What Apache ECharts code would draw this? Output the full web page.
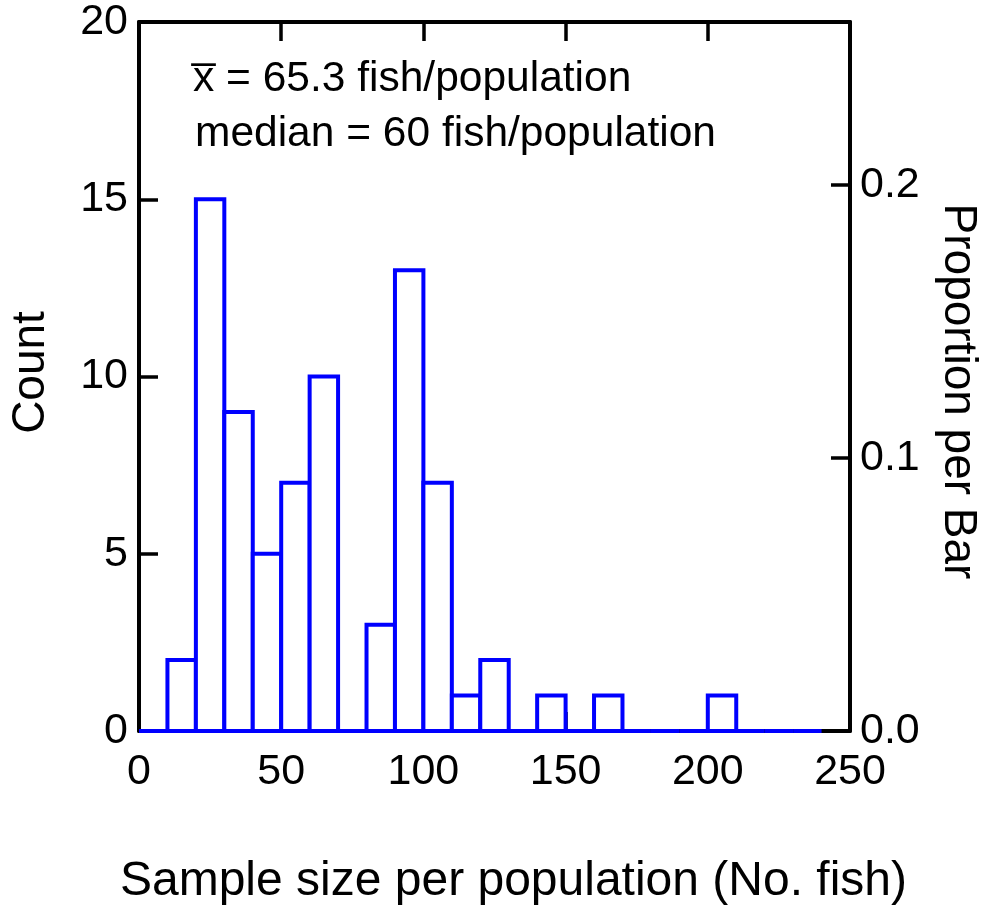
<!DOCTYPE html>
<html>
<head>
<meta charset="utf-8">
<script src="https://cdn.jsdelivr.net/npm/echarts@6/dist/echarts.min.js"></script>
<style>
  html, body { margin: 0; padding: 0; background: #fff; }
  #chart { width: 992px; height: 907px; }
</style>
</head>
<body>
<div id="chart"></div>
<script>
// histogram bins (left edge, width 10)
const binStarts = [0, 10, 20, 30, 40, 50, 60, 70, 80, 90, 100, 110, 120, 130, 140, 150, 160, 170, 180, 190, 200, 210, 220, 230]
const binWidth = 10
const counts = [0, 2, 15, 9, 5, 7, 10, 0, 3, 13, 7, 1, 2, 0, 1, 0, 1, 0, 0, 0, 1, 0, 0, 0]
const xTicks = [0, 50, 100, 150, 200, 250]
const countTicks = [0, 5, 10, 15, 20]
const propTicks = [0, 0.1, 0.2]
const notes = ['x\u0305 = 65.3 fish/population', 'median = 60 fish/population']

const FONT = "'Liberation Sans', Arial, sans-serif"
const total = counts.reduce((a, b) => a + b, 0)
const countMax = 20

const chart = echarts.init(document.getElementById('chart'))

const axisLine = { show: true, onZero: false, lineStyle: { color: '#000', width: 4 } }
const tickIn = { show: true, inside: true, length: 19, lineStyle: { color: '#000', width: 3.5 } }

const option = {
  animation: false,
  grid: { left: 139, top: 22, right: 142, bottom: 176, containLabel: false, outerBoundsMode: 'none' },
  xAxis: [
    {
      type: 'value', position: 'bottom',
      min: 0, max: 250, interval: 50,
      axisLine, axisTick: tickIn, splitLine: { show: false },
      axisLabel: { color: '#000', fontFamily: FONT, fontSize: 43, margin: 20, customValues: xTicks },
      name: 'Sample size per population (No. fish)',
      nameLocation: 'middle', nameGap: 127,
      nameTextStyle: { color: '#000', fontFamily: FONT, fontSize: 48, padding: [0, 0, 0, 38] }
    },
    {
      type: 'value', position: 'top',
      min: 0, max: 250, interval: 50,
      axisLine, axisTick: tickIn, axisLabel: { show: false }, splitLine: { show: false }
    }
  ],
  yAxis: [
    {
      type: 'value', position: 'left',
      min: 0, max: countMax, interval: 5,
      axisLine, axisTick: tickIn, splitLine: { show: false },
      axisLabel: { color: '#000', fontFamily: FONT, fontSize: 43, margin: 11, customValues: countTicks },
      name: 'Count', nameLocation: 'middle', nameGap: 85, nameRotate: 90,
      nameTextStyle: { color: '#000', fontFamily: FONT, fontSize: 46, padding: [0, 0, 0, 8] }
    },
    {
      type: 'value', position: 'right',
      min: 0, max: countMax / total,
      axisLine, splitLine: { show: false },
      axisTick: Object.assign({}, tickIn, { customValues: propTicks }),
      axisLabel: {
        color: '#000', fontFamily: FONT, fontSize: 43, margin: 10,
        customValues: propTicks, formatter: v => v.toFixed(1)
      },
      name: 'Proportion per Bar', nameLocation: 'middle', nameGap: 85, nameRotate: -90,
      nameTextStyle: { color: '#000', fontFamily: FONT, fontSize: 46, padding: [0, 0, 0, 30] }
    }
  ],
  graphic: [
    {
      type: 'text', left: 193, top: 58, z: 10,
      style: { text: notes[0], fill: '#000', font: '42.5px ' + FONT }
    },
    {
      type: 'text', left: 195, top: 113, z: 10,
      style: { text: notes[1], fill: '#000', font: '42.5px ' + FONT }
    }
  ],
  series: [
    {
      type: 'custom',
      xAxisIndex: 0, yAxisIndex: 0,
      z: 5,
      clip: false,
      data: binStarts.map((s, i) => [s, s + binWidth, counts[i]]),
      renderItem(params, api) {
        const x0 = api.value(0), x1 = api.value(1), c = api.value(2)
        const p0 = api.coord([x0, 0])
        const p1 = api.coord([x1, c])
        const style = { stroke: '#0000ff', lineWidth: 4, fill: c > 0 ? '#fff' : null }
        if (c === 0) {
          return { type: 'line', shape: { x1: p0[0], y1: p0[1], x2: p1[0], y2: p0[1] }, style }
        }
        return {
          type: 'rect',
          shape: { x: p0[0], y: p1[1], width: p1[0] - p0[0], height: p0[1] - p1[1] },
          style
        }
      }
    }
  ]
}

chart.setOption(option)
</script>
</body>
</html>
